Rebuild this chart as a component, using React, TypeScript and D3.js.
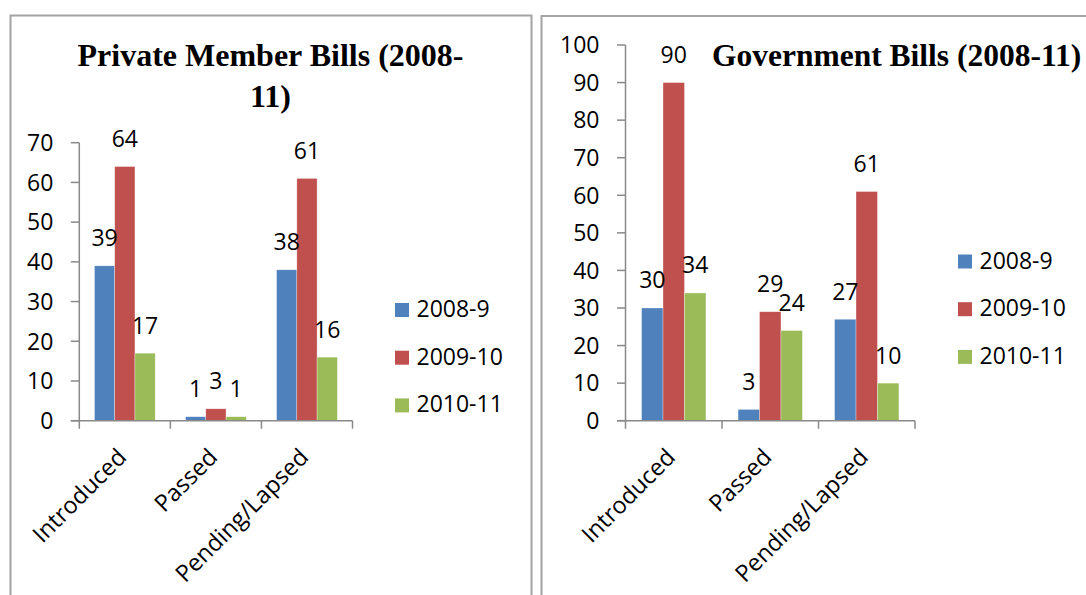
import React from "react";
import * as d3 from "d3";

const categories = ["Introduced", "Passed", "Pending/Lapsed"];
const seriesNames = ["2008-9", "2009-10", "2010-11"];
const seriesColors = ["#4F81BD", "#C0504D", "#9BBB59"];

// values per series, across categories
const privateValues = [
  [39, 1, 38],
  [64, 3, 61],
  [17, 1, 16],
];
const governmentValues = [
  [30, 3, 27],
  [90, 29, 61],
  [34, 24, 10],
];
const privateTicks = [0, 10, 20, 30, 40, 50, 60, 70];
const governmentTicks = [0, 10, 20, 30, 40, 50, 60, 70, 80, 90, 100];

const FONT = "'Open Sans', 'Noto Sans', sans-serif";
const AXIS = "#898989";

type ChartProps = {
  values: number[][];
  ticks: number[];
  yMax: number;
  xRange: [number, number];
  yRange: [number, number];
  legendX: number;
  legendY: number;
};

function BarChart({ values, ticks, yMax, xRange, yRange, legendX, legendY }: ChartProps) {
  const x0 = d3.scaleBand<string>().domain(categories).range(xRange).paddingInner(0).paddingOuter(0);
  const cw = x0.bandwidth();
  const x1 = d3.scaleBand<string>().domain(seriesNames).range([cw / 6, (cw * 5) / 6]).padding(0);
  const y = d3.scaleLinear().domain([0, yMax]).range(yRange);
  const axX = xRange[0];
  const axY = y(0);
  return (
    <g>
      {/* bars */}
      {seriesNames.map((s, si) =>
        categories.map((c, ci) => {
          const v = values[si][ci];
          return (
            <rect
              key={s + c}
              x={(x0(c) as number) + (x1(s) as number)}
              y={y(v)}
              width={x1.bandwidth()}
              height={axY - y(v)}
              fill={seriesColors[si]}
              stroke="#ffffff"
              strokeOpacity={0.5}
              strokeWidth={0.6}
            />
          );
        })
      )}
      {/* axes */}
      <line x1={axX} x2={axX} y1={y(yMax)} y2={axY} stroke={AXIS} strokeWidth={1.5} />
      <line x1={axX - 8.5} x2={xRange[1]} y1={axY} y2={axY} stroke={AXIS} strokeWidth={1.5} />
      {ticks.map((t) => (
        <g key={t}>
          <line x1={axX - 8.5} x2={axX} y1={y(t)} y2={y(t)} stroke={AXIS} strokeWidth={1.5} />
          <text x={axX - 26} y={y(t)} dy="0.36em" textAnchor="end" fontFamily={FONT} fontSize={23} fill="#000">
            {t}
          </text>
        </g>
      ))}
      {[...categories.map((c) => x0(c) as number), xRange[1]].map((px, i) => (
        <line key={i} x1={px} x2={px} y1={axY} y2={axY + 8} stroke={AXIS} strokeWidth={1.5} />
      ))}
      {/* category labels */}
      {categories.map((c) => {
        const cx = (x0(c) as number) + cw / 2;
        return (
          <text
            key={c}
            transform={`translate(${cx + 3},${axY + 38}) rotate(-45)`}
            textAnchor="end"
            fontFamily={FONT}
            fontSize={23.5}
            fill="#000"
          >
            {c}
          </text>
        );
      })}
      {/* data labels */}
      {seriesNames.map((s, si) =>
        categories.map((c, ci) => {
          const v = values[si][ci];
          const cx = (x0(c) as number) + (x1(s) as number) + x1.bandwidth() / 2;
          return (
            <text key={"l" + s + c} x={cx} y={y(v) - 19.5} textAnchor="middle" fontFamily={FONT} fontSize={23} fill="#000">
              {v}
            </text>
          );
        })
      )}
      {/* legend */}
      {seriesNames.map((s, si) => {
        const by = legendY + si * 47.7;
        return (
          <g key={"lg" + s}>
            <rect x={legendX} y={by - 14} width={14} height={14} fill={seriesColors[si]} />
            <text x={legendX + 21.5} y={by} fontFamily={FONT} fontSize={23} fill="#000">
              {s}
            </text>
          </g>
        );
      })}
    </g>
  );
}

export default function App() {
  const border = "#a3a3a3";
  return (
    <svg
      width={1086}
      height={595}
      style={{ position: "absolute", left: 0, top: 0, background: "#fff" }}
    >
      <rect x={0} y={0} width={1086} height={595} fill="#fff" />
      {/* panel borders */}
      <path d="M10.5,600 V15.5 H531.5 V600" fill="none" stroke={border} strokeWidth={2} />
      <path d="M541.5,600 V16 H1100" fill="none" stroke={border} strokeWidth={2} />

      {/* titles */}
      <text x={270.5} y={66} textAnchor="middle" fontFamily="'Liberation Serif', 'Times New Roman', serif" fontWeight="bold" fontSize={32}>
        Private Member Bills (2008-
      </text>
      <text x={270.5} y={107} textAnchor="middle" fontFamily="'Liberation Serif', 'Times New Roman', serif" fontWeight="bold" fontSize={32}>
        11)
      </text>
      <text x={712} y={66} textAnchor="start" fontFamily="'Liberation Serif', 'Times New Roman', serif" fontWeight="bold" fontSize={31.5}>
        Government Bills (2008-11)
      </text>

      <BarChart
        values={privateValues}
        ticks={privateTicks}
        yMax={70}
        xRange={[79.3, 352.5]}
        yRange={[420.7, 142.7]}
        legendX={395}
        legendY={317}
      />
      <BarChart
        values={governmentValues}
        ticks={governmentTicks}
        yMax={100}
        xRange={[625.5, 915]}
        yRange={[420.7, 45]}
        legendX={958}
        legendY={268.5}
      />
    </svg>
  );
}
